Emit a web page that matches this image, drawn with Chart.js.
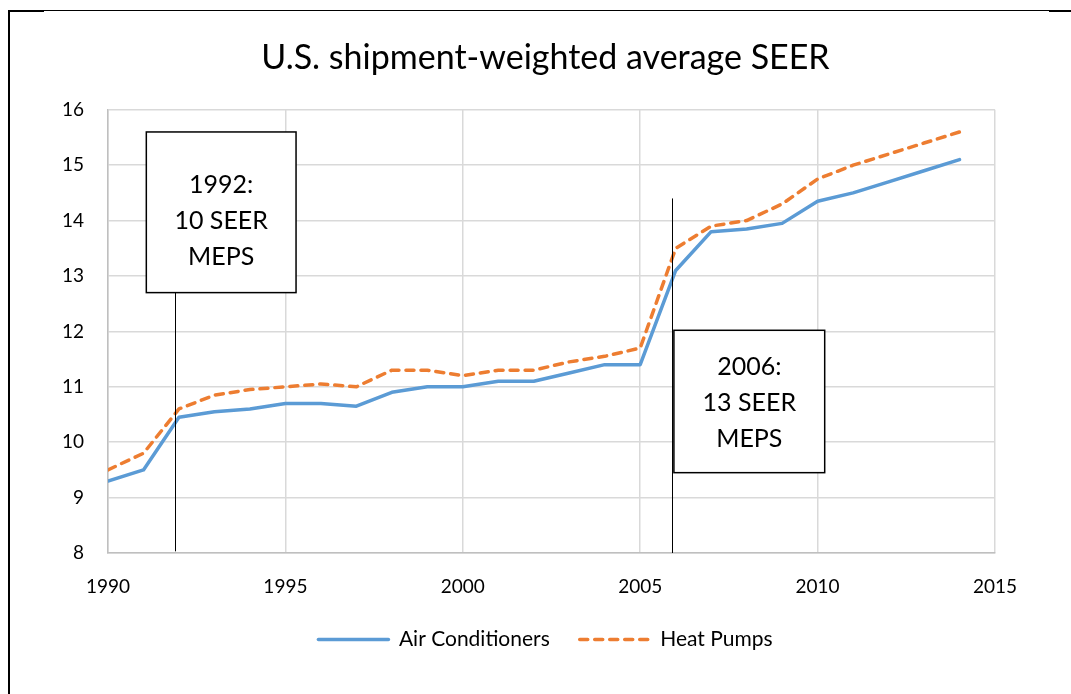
<!DOCTYPE html>
<html>
<head>
<meta charset="utf-8">
<script src="https://cdn.jsdelivr.net/npm/chart.js@4.4.0/dist/chart.umd.min.js"></script>
<style>
    html, body { margin: 0; padding: 0; background: #fff; }
    #wrap { width: 1071px; height: 694px; position: relative; }
</style>
</head>
<body>
<div id="wrap"><canvas id="seer-chart"></canvas></div>
<script>
// Shipment-weighted SEER, 1990-2014
const years = [1990, 1991, 1992, 1993, 1994, 1995, 1996, 1997, 1998, 1999, 2000, 2001,
    2002, 2003, 2004, 2005, 2006, 2007, 2008, 2009, 2010, 2011, 2012, 2013, 2014];
const airConditioners = [9.3, 9.5, 10.45, 10.55, 10.6, 10.7, 10.7, 10.65, 10.9, 11.0, 11.0, 11.1,
    11.1, 11.25, 11.4, 11.4, 13.1, 13.8, 13.85, 13.95, 14.35, 14.5, 14.7, 14.9, 15.1];
const heatPumps = [9.5, 9.8, 10.6, 10.85, 10.95, 11.0, 11.05, 11.0, 11.3, 11.3, 11.2, 11.3,
    11.3, 11.45, 11.55, 11.7, 13.5, 13.9, 14.0, 14.3, 14.75, 15.0, 15.2, 15.4, 15.6];
const yTicks = [8, 9, 10, 11, 12, 13, 14, 15, 16];
const xTicks = [1990, 1995, 2000, 2005, 2010, 2015];

// Standards callouts: label lines, marker line, box extents and text centre in data units
const callouts = [
    { lines: ['1992:', '10 SEER', 'MEPS'], markYear: 1991.9, markTop: 12.7, markBottom: 8.03,
      box: { x0: 1991.08, x1: 1995.3, y0: 15.6, y1: 12.7 }, textY: 14.0 },
    { lines: ['2006:', '13 SEER', 'MEPS'], markYear: 2005.9, markTop: 14.4, markBottom: 8,
      box: { x0: 2005.95, x1: 2010.2, y0: 12.02, y1: 9.45 }, textY: 10.71 }
];

const FONT = 'Lato, "Open Sans", sans-serif';

const pageFrame = {
    id: 'pageFrame',
    beforeDraw(chart) {
        const ctx = chart.ctx;
        ctx.save();
        ctx.fillStyle = '#fff';
        ctx.fillRect(0, 0, chart.width, chart.height);
        ctx.fillStyle = '#000';
        ctx.fillRect(8, 10, 2, chart.height - 10);
        ctx.fillRect(8, 10, chart.width - 8, 1);
        ctx.fillRect(8, 10, 36, 2);
        ctx.fillRect(1049, 10, 22, 2);
        ctx.restore();
    }
};

const calloutBoxes = {
    id: 'calloutBoxes',
    afterDatasetsDraw(chart) {
        const ctx = chart.ctx;
        const xs = chart.scales.x, ys = chart.scales.y;
        ctx.save();
        callouts.forEach(c => {
            const mx = Math.round(xs.getPixelForValue(c.markYear)) + 0.5;
            ctx.strokeStyle = '#000';
            ctx.lineWidth = 1;
            ctx.beginPath();
            ctx.moveTo(mx, ys.getPixelForValue(c.markTop));
            ctx.lineTo(mx, ys.getPixelForValue(c.markBottom));
            ctx.stroke();

            const x0 = xs.getPixelForValue(c.box.x0), x1 = xs.getPixelForValue(c.box.x1);
            const y0 = ys.getPixelForValue(c.box.y0), y1 = ys.getPixelForValue(c.box.y1);
            ctx.fillStyle = '#fff';
            ctx.fillRect(x0, y0, x1 - x0, y1 - y0);
            ctx.lineWidth = 1.5;
            ctx.strokeRect(x0, y0, x1 - x0, y1 - y0);

            ctx.fillStyle = '#000';
            ctx.font = '25px ' + FONT;
            ctx.textAlign = 'center';
            ctx.textBaseline = 'middle';
            const cx = (x0 + x1) / 2, cy = ys.getPixelForValue(c.textY), lh = 36;
            c.lines.forEach((t, i) => {
                ctx.fillText(t, cx, cy + (i - (c.lines.length - 1) / 2) * lh);
            });
        });
        ctx.restore();
    }
};

// legend entries drawn as line samples that keep each dataset's dash
function lineLegendLabels(chart) {
    const items = Chart.defaults.plugins.legend.labels.generateLabels(chart);
    return items.map(item => {
        const ds = chart.data.datasets[item.datasetIndex];
        return Object.assign(item, {
            lineDash: ds.borderDash || [],
            lineWidth: ds.borderWidth,
            lineCap: 'round',
            strokeStyle: ds.borderColor
        });
    });
}

const ctx = document.getElementById('seer-chart').getContext('2d');
new Chart(ctx, {
    type: 'line',
    data: {
        datasets: [
            {
                label: 'Air Conditioners',
                data: years.map((yr, i) => ({ x: yr, y: airConditioners[i] })),
                borderColor: '#5B9BD5',
                backgroundColor: '#5B9BD5',
                borderWidth: 3.5,
                pointRadius: 0,
                tension: 0,
                borderCapStyle: 'round',
                borderJoinStyle: 'round'
            },
            {
                label: 'Heat Pumps',
                data: years.map((yr, i) => ({ x: yr, y: heatPumps[i] })),
                borderColor: '#ED7D31',
                backgroundColor: '#ED7D31',
                borderWidth: 3.5,
                borderDash: [8, 7],
                borderCapStyle: 'round',
                borderJoinStyle: 'round',
                pointRadius: 0,
                tension: 0
            }
        ]
    },
    options: {
        responsive: true,
        maintainAspectRatio: false,
        animation: false,
        layout: { padding: { left: 20, right: 0, top: 0, bottom: 34 } },
        plugins: {
            title: {
                display: true,
                text: 'U.S. shipment-weighted average SEER',
                color: '#000',
                font: { family: FONT, size: 34, weight: 'normal' },
                padding: { top: 38, bottom: 31 }
            },
            legend: {
                display: true,
                position: 'bottom',
                labels: {
                    usePointStyle: true,
                    pointStyle: 'line',
                    pointStyleWidth: 70,
                    color: '#000',
                    padding: 30,
                    font: { family: FONT, size: 21 },
                    generateLabels: lineLegendLabels
                }
            },
            tooltip: { enabled: false }
        },
        scales: {
            x: {
                type: 'linear',
                min: 1990,
                max: 2015,
                afterBuildTicks: scale => { scale.ticks = xTicks.map(v => ({ value: v })); },
                afterFit: scale => { scale.height = 46; },
                ticks: {
                    color: '#000',
                    padding: 22,
                    maxRotation: 0,
                    font: { family: FONT, size: 19 },
                    callback: v => String(v)
                },
                grid: { color: '#d9d9d9', lineWidth: 1.5, drawTicks: false },
                border: { color: '#bfbfbf', width: 1.5 }
            },
            y: {
                min: 8,
                max: 16,
                afterBuildTicks: scale => { scale.ticks = yTicks.map(v => ({ value: v })); },
                afterFit: scale => { scale.width = 88; },
                ticks: {
                    color: '#000',
                    padding: 24,
                    font: { family: FONT, size: 19 }
                },
                grid: { color: '#d9d9d9', lineWidth: 1.5, drawTicks: false },
                border: { color: '#bfbfbf', width: 1.5 }
            },
            // empty right-hand gutter so the plot ends short of the frame
            gutter: {
                position: 'right',
                display: true,
                min: 0,
                max: 1,
                afterFit: scale => { scale.width = 76; },
                ticks: { display: false },
                grid: { display: false, drawOnChartArea: false },
                border: { display: false }
            }
        }
    },
    plugins: [pageFrame, calloutBoxes]
});
</script>
</body>
</html>
